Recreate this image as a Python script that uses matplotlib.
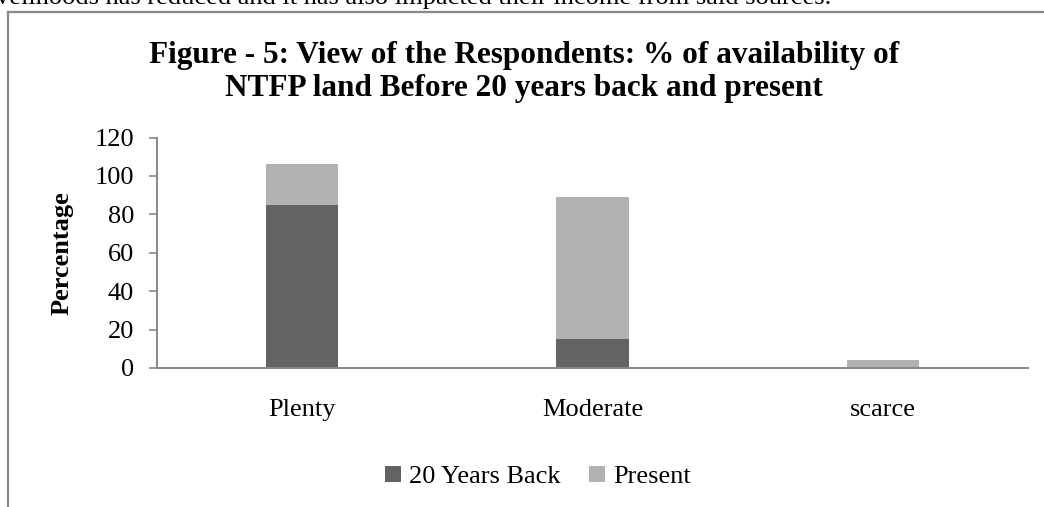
import matplotlib
matplotlib.use("Agg")
import matplotlib.pyplot as plt
from matplotlib.lines import Line2D

plt.rcParams['font.family'] = ['Liberation Serif', 'DejaVu Serif']

# Data
categories = ["Plenty", "Moderate", "scarce"]
years_back = [85, 15, 0]
present = [21, 74, 4]
series_names = ["20 Years Back", "Present"]
y_ticks = [0, 20, 40, 60, 80, 100, 120]

dark = "#636363"
light = "#b2b2b2"
axis_grey = "#878787"

fig = plt.figure(figsize=(10.44, 5.07), dpi=100)

# text fragment of the page above the chart and the chart border
fig.text(-0.004, 1 - 4 / 507, "velihoods has reduced and it has also impacted their income from said sources.",
         fontsize=19, ha="left", va="baseline")
fig.add_artist(Line2D([8 / 1044, 8 / 1044], [0, 1 - 12 / 507], color=axis_grey, lw=1.6))
fig.add_artist(Line2D([8 / 1044, 1.0], [1 - 12 / 507, 1 - 12 / 507], color=axis_grey, lw=1.6))

ax = fig.add_axes([157 / 1044, 1 - 368 / 507, (1028 - 157) / 1044, (368 - 137.6) / 507])
x = range(len(categories))
ax.bar(x, years_back, width=0.25, color=dark, label=series_names[0])
ax.bar(x, present, width=0.25, bottom=years_back, color=light, label=series_names[1])

ax.set_xlim(-0.5, 2.5)
ax.set_ylim(0, 120)
ax.set_yticks(y_ticks)
ax.set_xticks(list(x))
ax.set_xticklabels(categories)
ax.tick_params(axis="y", length=6, width=1.2, color=axis_grey, labelsize=19, pad=10.5)
ax.tick_params(axis="x", length=0, labelsize=19, pad=22)
for s in ["top", "right"]:
    ax.spines[s].set_visible(False)
for s in ["left", "bottom"]:
    ax.spines[s].set_color(axis_grey)
    ax.spines[s].set_linewidth(1.4)

ax.set_ylabel("Percentage", fontsize=19, fontweight="bold")
ax.yaxis.set_label_coords(-0.096, 0.5)

fig.text(524 / 1044, 1 - 72 / 507, "Figure - 5: View of the Respondents: % of availability of\nNTFP land Before 20 years back and present",
         fontsize=22.5, fontweight="bold", ha="center", va="center", linespacing=1.22)

ax.legend(loc="center", bbox_to_anchor=(538 / 1044, 1 - 477 / 507), bbox_transform=fig.transFigure,
          ncol=2, frameon=False, fontsize=19, handlelength=0.6, handleheight=0.6,
          handletextpad=0.3, columnspacing=1.1)

fig.savefig("out.png", dpi=100)
